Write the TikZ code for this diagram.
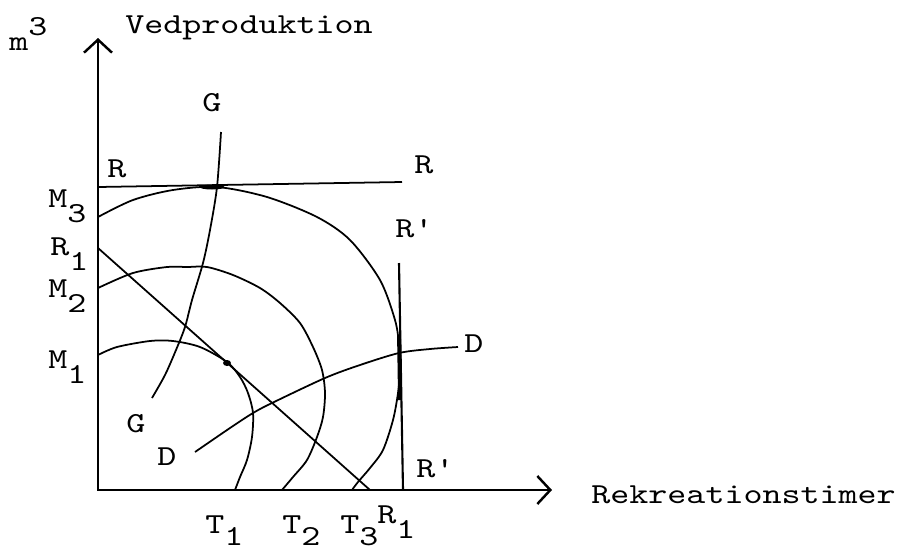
\documentclass[tikz,border=0pt]{standalone}
\usepackage{fontspec}
\newfontfamily\tw[Ligatures=TeXOff,FakeStretch=1.25]{lmmono10-regular.otf}
\usetikzlibrary{arrows.meta}
\newcommand\dn[1]{\raisebox{-0.3cm}{#1}}
\newcommand\lodn[1]{\raisebox{-0.25cm}{#1}}
\newcommand\up[1]{\raisebox{0.3cm}{#1}}

\begin{document}
\begin{tikzpicture}[x=0.02cm,y=-0.02cm,
	axis/.style={line width=1.5pt,{Straight Barb[length=2.6mm,width=5.6mm,line width=1.4pt]}-{Straight Barb[length=2.6mm,width=5.6mm,line width=1.4pt]}},
	curve/.style={line width=1pt},
	lbl/.style={font=\tw\fontsize{16.5}{19}\selectfont,inner sep=0pt,anchor=base west}]
	\useasboundingbox (0,0) rectangle (898,555);
	
	% axes
	\coordinate (O) at (98,490);
	\coordinate (ytop) at (98,38);
	\coordinate (xend) at (552,490);
	\draw[axis] (ytop) -- (O) -- (xend);
	\node[lbl] (mlab) at (9,50) {m\up{3}};
	\node[lbl] (ylab) at (125,33) {Vedproduktion};
	\node[lbl] (xlab) at (591,503) {Rekreationstimer};
	
	% budget lines
	\coordinate (Rleft) at (98,187);
	\coordinate (Rright) at (402,182);
	\coordinate (R1top) at (98,248);
	\coordinate (R1bot) at (370,490);
	\coordinate (Rptop) at (399,263);
	\coordinate (Rpbot) at (403,490);
	\draw[curve] (Rleft) -- (Rright);
	\draw[curve] (R1top) -- (R1bot);
	\draw[line width=1.2pt] (Rptop) -- (Rpbot);
	
	% transformation curves
	\draw[curve] plot[smooth] coordinates {(98,355) (117,347) (150,341) (173,341) (200,347) (227,362) (240,377) (248,393) (253,413) (252,437) (247,460) (240,477) (235,490)};
	\draw[curve] plot[smooth] coordinates {(98,288) (133,273) (167,267) (187,267) (207,267) (233,275) (260,288) (280,303) (300,323) (313,347) (322,370) (325,393) (323,417) (317,437) (307,460) (293,477) (282,490)};
	\draw[curve] plot[smooth] coordinates {(98,217) (133,200) (173,190) (217,187) (267,197) (317,217) (350,240) (380,280) (395,320) (399,345) (400,370) (398,393) (393,420) (383,450) (370,468) (358,482) (352,490)};
	
	% G and D curves
	\draw[curve] plot[smooth] coordinates {(221,132) (217,187) (210,230) (203,263) (192,300) (185,327) (176,350) (165,375) (152,398)};
	\draw[curve] plot[smooth] coordinates {(195,452) (230,428) (253,413) (272,403) (325,378) (360,365) (399,353) (430,349) (458,347)};
	
	% tangent points
	\fill (212,187) ellipse [x radius=0.25cm, y radius=0.05cm];
	\fill (227,363) ellipse [x radius=0.08cm, y radius=0.06cm];
	\draw[line width=2.2pt] (399,335) -- (400,400);
	
	% labels
	\node[lbl] (Gtop) at (202,111) {G};
	\node[lbl] (Rl) at (107,177) {R};
	\node[lbl] (Rr) at (414,173) {R};
	\node[lbl] (M3) at (48,207) {M\dn{3}};
	\node[lbl] (Rp) at (395,237) {R'};
	\node[lbl] (R1l) at (50,255) {R\dn{1}};
	\node[lbl] (M2) at (48,297) {M\dn{2}};
	\node[lbl] (M1) at (48,368) {M\dn{1}};
	\node[lbl] (Gbot) at (126,432) {G};
	\node[lbl] (Dl) at (157,465) {D};
	\node[lbl] (Dr) at (464,352) {D};
	\node[lbl] (Rpb) at (416,477) {R'};
	\node[lbl] (T1) at (205,533) {T\lodn{1}};
	\node[lbl] (T2) at (282,533) {T\lodn{2}};
	\node[lbl] (T3) at (340,533) {T\lodn{3}};
	\node[lbl] (R1b) at (377,523) {R\dn{1}};
\end{tikzpicture}
\end{document}
